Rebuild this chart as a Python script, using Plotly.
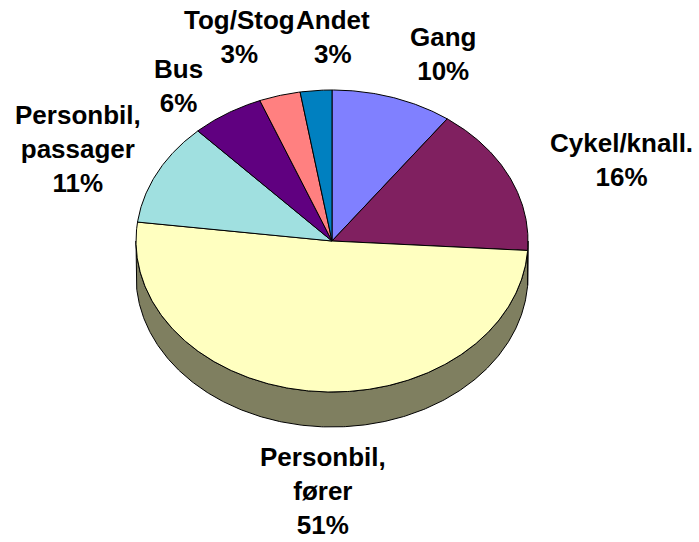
import numpy as np
import plotly.graph_objects as go

# ---- data ----
categories = ["Gang", "Cykel/knall.", "Personbil,<br>fører", "Personbil,<br>passager",
              "Bus", "Tog/Stog", "Andet"]
values = [10, 16, 51, 11, 6, 3.4, 2.6]

# ---- styling / layout (kept separate from the data) ----
colors = ["#8080FF", "#802060", "#FFFFC0", "#A0E0E0", "#600080", "#FF8080", "#0080C0"]
label_pos = [(443, 54), (621, 160), (323, 491), (78, 149), (178, 86), (239, 37), (333, 37)]
W, H = 699, 542
cx, cy, rx, ry, depth = 332, 241, 196, 151, 35
FONT = "Liberation Sans, Arial, sans-serif"


def darker(hexcol, f=0.5):
    h = hexcol.lstrip("#")
    r, g, b = (int(h[i:i + 2], 16) for i in (0, 2, 4))
    return "#%02X%02X%02X" % (int(r * f), int(g * f), int(b * f))


def arc(a0, a1, dy=0.0, n=None):
    # angles in degrees, clockwise from 12 o'clock
    if n is None:
        n = max(2, int(abs(a1 - a0) * 2) + 2)
    t = np.radians(np.linspace(a0, a1, n))
    return cx + rx * np.sin(t), cy - ry * np.cos(t) + dy


total = float(sum(values))
angles = np.concatenate([[0.0], np.cumsum(values) / total * 360.0])

fig = go.Figure()

# side walls (front half only: 90..270 degrees)
for i, v in enumerate(values):
    a0, a1 = angles[i], angles[i + 1]
    s0, s1 = max(a0, 90.0), min(a1, 270.0)
    if s1 <= s0:
        continue
    xt, yt = arc(s0, s1)
    xb, yb = arc(s1, s0, dy=depth)
    xs = np.concatenate([xt, xb, xt[:1]])
    ys = np.concatenate([yt, yb, yt[:1]])
    fig.add_trace(go.Scatter(x=xs, y=ys, mode="lines", fill="toself",
                             fillcolor=darker(colors[i]),
                             line=dict(color="black", width=1),
                             hoverinfo="skip", showlegend=False))

# top faces
for i, v in enumerate(values):
    a0, a1 = angles[i], angles[i + 1]
    xa, ya = arc(a0, a1)
    xs = np.concatenate([[cx], xa, [cx]])
    ys = np.concatenate([[cy], ya, [cy]])
    fig.add_trace(go.Scatter(x=xs, y=ys, mode="lines", fill="toself",
                             fillcolor=colors[i],
                             line=dict(color="black", width=1),
                             hoverinfo="skip", showlegend=False,
                             name=categories[i].replace("<br>", " ")))

# labels
for i, v in enumerate(values):
    pct = int(round(v / total * 100))
    x, y = label_pos[i]
    fig.add_annotation(x=x, y=y, xref="x", yref="y",
                       text=f"{categories[i]}<br>{pct}%",
                       showarrow=False, align="center",
                       xanchor="center", yanchor="middle",
                       font=dict(family=FONT, size=26, color="black", weight="bold"))

fig.update_layout(
    width=W, height=H,
    margin=dict(l=0, r=0, t=0, b=0),
    paper_bgcolor="white", plot_bgcolor="white",
    xaxis=dict(range=[0, W], visible=False, fixedrange=True),
    yaxis=dict(range=[H, 0], visible=False, fixedrange=True),
    showlegend=False,
)

fig.write_html("out.html", config={"displayModeBar": False},
               post_script="document.body.style.margin='0';document.body.style.overflow='hidden';")
